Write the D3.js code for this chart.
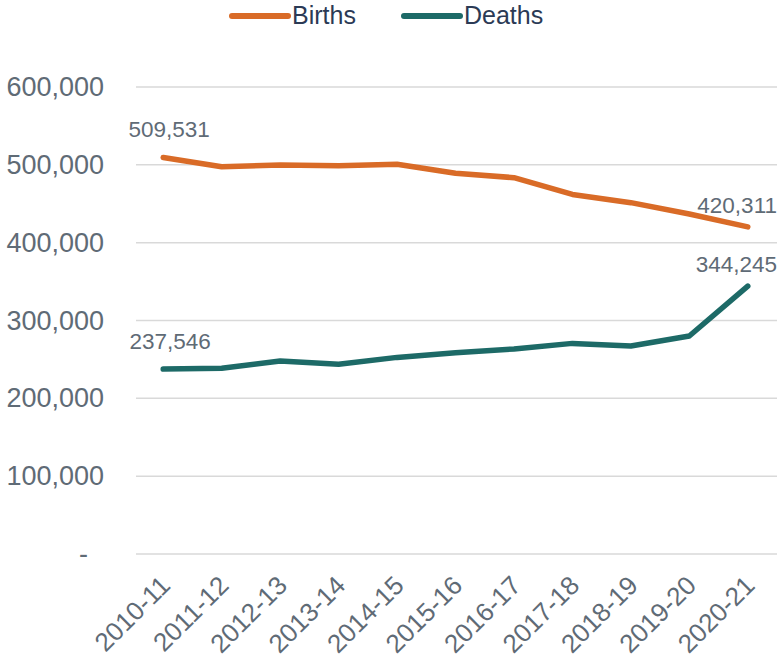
<!DOCTYPE html>
<html>
<head>
<meta charset="utf-8">
<script src="https://cdn.jsdelivr.net/npm/d3@7"></script>
<style>
  body { margin: 0; background: #fff; }
  svg { display: block; font-family: "Liberation Sans", Arial, sans-serif; }
</style>
</head>
<body>
<svg id="chart" width="779" height="660"></svg>
<script>
// ====== Data ======
const years = ["2010-11", "2011-12", "2012-13", "2013-14", "2014-15", "2015-16",
  "2016-17", "2017-18", "2018-19", "2019-20", "2020-21"];

const births = [509531, 497600, 499700, 498900, 500800, 489200, 483500, 462000, 451400, 436800, 420311];
const deaths = [237546, 238700, 247900, 243700, 252600, 258700, 263500, 270600, 267200, 280100, 344245];

const yTicks = [0, 100000, 200000, 300000, 400000, 500000, 600000];

const seriesNames = ["Births", "Deaths"];
const seriesColors = ["#d96b27", "#1d6a67"];

// ====== Layout ======
const svg = d3.select("#chart");
const plotLeft = 134, plotRight = 777, plotTop = 87, plotBottom = 554;

const x = d3.scalePoint().domain(years).range([plotLeft, plotRight]).padding(0.5);
const y = d3.scaleLinear().domain([0, 600000]).range([plotBottom, plotTop]);

const fmt = d3.format(",");

// gridlines
svg.append("g")
  .selectAll("line")
  .data(yTicks)
  .join("line")
  .attr("x1", 136).attr("x2", plotRight)
  .attr("y1", d => y(d)).attr("y2", d => y(d))
  .attr("stroke", "#d9d9d9")
  .attr("stroke-width", 1.5);

// y axis (labels only)
const yAxis = svg.append("g")
  .attr("transform", `translate(136,0)`)
  .call(d3.axisLeft(y).tickValues(yTicks).tickSize(0).tickPadding(32)
    .tickFormat(d => d === 0 ? "-" : fmt(d)));
yAxis.select(".domain").remove();
yAxis.selectAll("text")
  .attr("font-size", 27)
  .attr("fill", "#5f6b76")
  .attr("font-family", "Liberation Sans, Arial, sans-serif");
// accounting-style dash sits left of the right edge
yAxis.selectAll(".tick").filter(d => d === 0).select("text").attr("x", -48);

// x axis labels
const xAxis = svg.append("g")
  .attr("transform", `translate(0,${plotBottom})`)
  .call(d3.axisBottom(x).tickSize(0).tickPadding(0));
xAxis.select(".domain").remove();
xAxis.selectAll("text")
  .attr("font-size", 26)
  .attr("fill", "#5f6b76")
  .attr("font-family", "Liberation Sans, Arial, sans-serif")
  .attr("text-anchor", "end")
  .attr("dy", null)
  .attr("y", 0)
  .attr("transform", "translate(8,33) rotate(-45)");

// lines
const line = d3.line().x((d, i) => x(years[i])).y(d => y(d));
[births, deaths].forEach((vals, k) => {
  svg.append("path")
    .datum(vals)
    .attr("d", line)
    .attr("fill", "none")
    .attr("stroke", seriesColors[k])
    .attr("stroke-width", 5.5)
    .attr("stroke-linecap", "round")
    .attr("stroke-linejoin", "round");
});

// data labels (first and last points)
const labels = [
  { v: births[0], cx: x(years[0]) + 6, dy: -20, anchor: "middle" },
  { v: births[10], cx: plotRight, dy: -14, anchor: "end" },
  { v: deaths[0], cx: x(years[0]) + 7, dy: -20, anchor: "middle" },
  { v: deaths[10], cx: plotRight, dy: -14, anchor: "end" },
];
svg.append("g")
  .selectAll("text")
  .data(labels)
  .join("text")
  .attr("x", d => d.cx)
  .attr("y", d => y(d.v) + d.dy)
  .attr("text-anchor", d => d.anchor)
  .attr("font-size", 22.5)
  .attr("fill", "#5f6b76")
  .text(d => fmt(d.v));

// legend
const legendX = [232, 404];
const legend = svg.append("g")
  .selectAll("g")
  .data(seriesNames)
  .join("g")
  .attr("transform", (d, i) => `translate(${legendX[i]},16)`);
legend.append("line")
  .attr("x1", 0).attr("x2", 56)
  .attr("stroke", (d, i) => seriesColors[i])
  .attr("stroke-width", 6)
  .attr("stroke-linecap", "round");
legend.append("text")
  .attr("x", 60)
  .attr("y", 8)
  .attr("font-size", 25)
  .attr("fill", "#2b3a55")
  .text(d => d);
</script>
</body>
</html>
